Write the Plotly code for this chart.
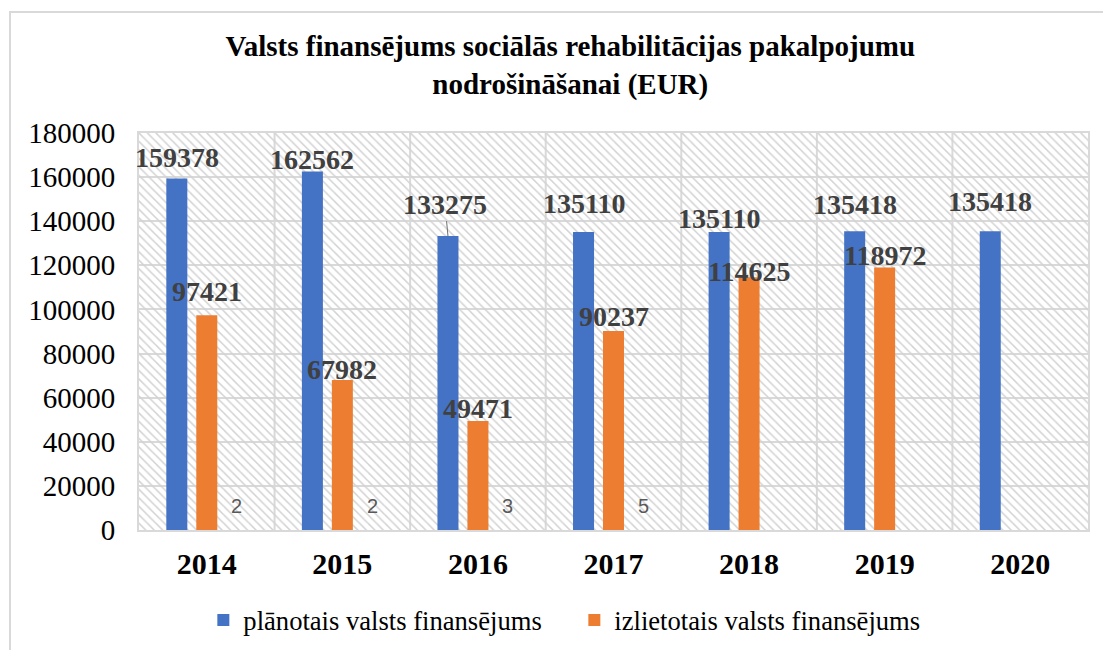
import plotly.graph_objects as go

years = ["2014", "2015", "2016", "2017", "2018", "2019", "2020"]
planned = [159378, 162562, 133275, 135110, 135110, 135418, 135418]
spent = [97421, 67982, 49471, 90237, 114625, 118972, None]
third = [2, 2, 3, 5, None, None, None]

series_names = ["plānotais valsts finansējums", "izlietotais valsts finansējums"]
title_text = "Valsts finansējums sociālās rehabilitācijas pakalpojumu<br>nodrošināšanai (EUR)"

# label placement (pixels above bar end)
planned_shift = [21, 12, 0, 29, 14, 27, 30]
spent_shift = [24, 11, 12, 14, 6, 12, 0]
third_shift = [24, 24, 24, 24, 0, 0, 0]

BLUE = "#4472C4"
ORANGE = "#ED7D31"
GRID = "#d9d9d9"
SERIF = "Liberation Serif"
SANS = "Liberation Sans"

W = 0.155  # bar width in category units
SLOT = 0.221
offs = [-SLOT, 0.0, SLOT]

fig = go.Figure()

# hatched background of the plot area
fig.add_trace(go.Bar(
    x=[3], y=[180000], width=[7], showlegend=False, hoverinfo="skip",
    marker=dict(color="rgba(0,0,0,0)", line=dict(width=0),
                pattern=dict(shape="\\", fgcolor="#d2d2d2", bgcolor="rgba(0,0,0,0)",
                             size=6, solidity=0.25, fillmode="replace")),
))

xs = list(range(len(years)))
for vals, name, color, off in [(planned, series_names[0], BLUE, offs[0]),
                               (spent, series_names[1], ORANGE, offs[1])]:
    fig.add_trace(go.Bar(
        x=xs, y=vals, name=name, width=W, offset=off - W / 2,
        marker=dict(color=color, line=dict(width=0)),
    ))
fig.add_trace(go.Bar(
    x=xs, y=third, width=W, offset=offs[2] - W / 2, showlegend=False,
    marker=dict(color="rgba(0,0,0,0)", line=dict(width=0)),
))

label_font = dict(family=SERIF, size=28, color="#404040")
annotations = []
for i, v in enumerate(planned):
    if v is None:
        continue
    if i == 2:
        annotations.append(dict(x=i + offs[0], y=v, xref="x", yref="y", text=f"<b>{v}</b>",
                                showarrow=True, arrowhead=0, arrowwidth=1, arrowcolor="#6f6f6f",
                                ax=-3, ay=-32, font=label_font, standoff=0))
    else:
        annotations.append(dict(x=i + offs[0], y=v, xref="x", yref="y", text=f"<b>{v}</b>",
                                showarrow=False, yanchor="middle", yshift=planned_shift[i],
                                font=label_font))
for i, v in enumerate(spent):
    if v is None:
        continue
    annotations.append(dict(x=i + offs[1], y=v, xref="x", yref="y", text=f"<b>{v}</b>",
                            showarrow=False, yanchor="middle", yshift=spent_shift[i],
                            font=label_font))
for i, v in enumerate(third):
    if v is None:
        continue
    annotations.append(dict(x=i + offs[2], y=v, xref="x", yref="y", text=f"{v}",
                            showarrow=False, yanchor="middle", yshift=third_shift[i],
                            font=dict(family=SANS, size=20, color="#595959")))

fig.update_layout(
    width=1103, height=650,
    margin=dict(l=139, r=15, t=133, b=120, autoexpand=False),
    paper_bgcolor="white", plot_bgcolor="white",
    barmode="overlay",
    font=dict(family=SERIF),
    title=dict(text=f"<b>{title_text}</b>", x=0.517, xanchor="center",
               y=1 - 56 / 650, yanchor="middle", yref="container",
               font=dict(family=SERIF, size=29, color="black")),
    xaxis=dict(type="linear", range=[-0.5, 6.5], tickvals=xs, ticktext=[f"<b>{y}</b>" for y in years],
               showgrid=False, zeroline=False, automargin=False,
               showline=True, mirror=True, linecolor=GRID, linewidth=2,
               ticks="", ticklabelstandoff=6,
               tickfont=dict(family=SERIF, size=30, color="black")),
    yaxis=dict(range=[0, 180000], dtick=20000, tick0=0, tickformat="d",
               showgrid=True, gridcolor=GRID, gridwidth=2, automargin=False,
               zeroline=False, showline=True, mirror=True, linecolor=GRID, linewidth=2,
               ticks="", ticklabelstandoff=16,
               tickfont=dict(family=SERIF, size=29, color="black")),
    legend=dict(orientation="h", x=0.0678, xanchor="left", y=-0.227, yanchor="middle",
                font=dict(family=SERIF, size=26.6, color="black"), traceorder="normal",
                itemwidth=30, entrywidth=326),
    annotations=annotations,
    showlegend=True,
)

# vertical gridlines at category boundaries
for b in [k + 0.5 for k in range(len(years) - 1)]:
    fig.add_shape(type="line", xref="x", yref="paper", x0=b, x1=b, y0=0, y1=1,
                  line=dict(color=GRID, width=2), layer="below")

# outer chart border
fig.add_shape(type="rect", xref="paper", yref="paper",
              x0=(10 - 139) / 949, x1=(1115 - 139) / 949,
              y0=(530 - 665) / 397, y1=(530 - 12) / 397,
              line=dict(color=GRID, width=2), fillcolor="rgba(0,0,0,0)", layer="below")

fig.write_html("out.html", config={"displayModeBar": False},
               post_script="document.body.style.margin='0';")
